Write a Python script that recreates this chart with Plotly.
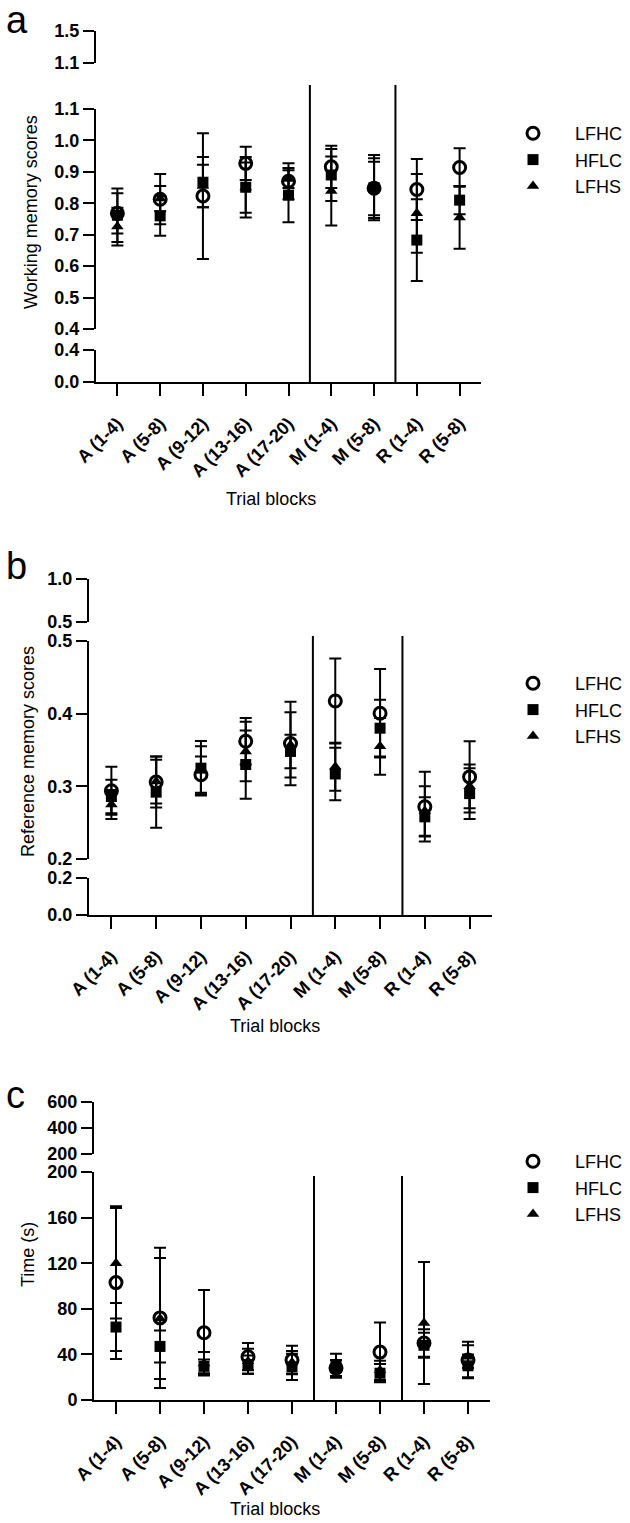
import plotly.graph_objects as go

# ---------------- data ----------------
categories = ["A (1-4)", "A (5-8)", "A (9-12)", "A (13-16)", "A (17-20)",
              "M (1-4)", "M (5-8)", "R (1-4)", "R (5-8)"]
series_names = ["LFHC", "HFLC", "LFHS"]

# Panel a: working memory scores
wm_lfhc = [0.768, 0.813, 0.823, 0.927, 0.870, 0.916, 0.848, 0.844, 0.914]
wm_lfhc_err = [0.064, 0.080, 0.200, 0.053, 0.057, 0.067, 0.095, 0.097, 0.061]
wm_hflc = [0.762, 0.760, 0.867, 0.851, 0.826, 0.890, 0.850, 0.683, 0.810]
wm_hflc_err = [0.085, 0.063, 0.080, 0.096, 0.086, 0.083, 0.104, 0.130, 0.045]
wm_lfhs = [0.726, 0.815, 0.855, 0.850, 0.877, 0.839, 0.847, 0.768, 0.755]
wm_lfhs_err = [0.060, 0.040, 0.068, 0.080, 0.028, 0.110, 0.085, 0.125, 0.100]

# Panel b: reference memory scores
rm_lfhc = [0.294, 0.306, 0.316, 0.362, 0.359, 0.4175, 0.4006, 0.272, 0.313]
rm_lfhc_err = [0.033, 0.035, 0.025, 0.032, 0.0575, 0.0585, 0.061, 0.048, 0.049]
rm_hflc = [0.286, 0.292, 0.325, 0.330, 0.348, 0.317, 0.380, 0.258, 0.290]
rm_hflc_err = [0.023, 0.049, 0.0375, 0.047, 0.023, 0.036, 0.039, 0.027, 0.035]
rm_lfhs = [0.275, 0.3065, 0.322, 0.348, 0.357, 0.327, 0.355, 0.266, 0.300]
rm_lfhs_err = [0.020, 0.030, 0.033, 0.041, 0.045, 0.033, 0.039, 0.034, 0.030]

# Panel c: time (s)
t_lfhc = [103, 72, 59, 38, 35, 28, 42, 50, 35]
t_lfhc_err = [67, 61.5, 37.5, 12, 12.5, 7, 26, 12, 16]
t_hflc = [64, 47, 29.5, 31, 29, 30, 23.5, 48, 30]
t_hflc_err = [21, 14, 6, 8, 11.5, 10.5, 8, 11, 10]
t_lfhs = [120, 71.5, 32, 34, 33, 26, 26, 67.5, 38]
t_lfhs_err = [48.5, 53, 10, 11, 10, 5, 8.5, 53.5, 10]

# axis segment tick labels (broken axes)
a_ticks = [[0.0, 0.4], [0.4, 0.5, 0.6, 0.7, 0.8, 0.9, 1.0, 1.1], [1.1, 1.5]]
b_ticks = [[0.0, 0.2], [0.2, 0.3, 0.4, 0.5], [0.5, 1.0]]
c_ticks = [[0, 40, 80, 120, 160, 200], [200, 400, 600]]

# ---------------- layout helpers ----------------
W, H = 630, 1523
FONT = "Liberation Sans, Arial, sans-serif"


def fx(p):
    return p / W


def fy(p):
    return 1 - p / H


panels = [
    dict(letter="a", ytitle="Working memory scores", fmt=".1f",
         data=[(wm_lfhc, wm_lfhc_err), (wm_hflc, wm_hflc_err), (wm_lfhs, wm_lfhs_err)],
         ticks=a_ticks, seg_px=[(382, 350), (329, 109), (63, 31)], main=1,
         x_px=(96, 481), sep_top=85, letter_xy=(4, 20), ytitle_xy=(31, 212),
         xtitle_xy=(271, 499), legend_xy=(491, 115)),
    dict(letter="b", ytitle="Reference memory scores", fmt=".1f",
         data=[(rm_lfhc, rm_lfhc_err), (rm_hflc, rm_hflc_err), (rm_lfhs, rm_lfhs_err)],
         ticks=b_ticks, seg_px=[(915, 878), (859, 641), (622, 579)], main=1,
         x_px=(89, 492), sep_top=636, letter_xy=(4, 566), ytitle_xy=(28, 752),
         xtitle_xy=(275, 1026), legend_xy=(491, 665)),
    dict(letter="c", ytitle="Time (s)", fmt="d",
         data=[(t_lfhc, t_lfhc_err), (t_hflc, t_hflc_err), (t_lfhs, t_lfhs_err)],
         ticks=c_ticks, seg_px=[(1400, 1172), (1154, 1102)], main=0,
         x_px=(94, 490), sep_top=1176, letter_xy=(4, 1095), ytitle_xy=(28, 1255),
         xtitle_xy=(275, 1509), legend_xy=(491, 1143)),
]

symbols = [
    dict(symbol="circle-open", size=12, line=dict(width=3, color="black"), color="black"),
    dict(symbol="square", size=11, color="black", line=dict(width=0)),
    dict(symbol="triangle-up", size=11, color="black", line=dict(width=0)),
]

axis_common = dict(showline=True, linewidth=2, linecolor="black", ticks="outside",
                   ticklen=11, tickwidth=2, tickcolor="black", showgrid=False,
                   zeroline=False, fixedrange=True, automargin=False,
                   tickfont=dict(family=FONT, size=18, color="black", weight="bold"))

fig = go.Figure()
layout = dict(width=W, height=H, autosize=False,
              margin=dict(l=0, r=0, t=0, b=0, pad=0, autoexpand=False),
              paper_bgcolor="white", plot_bgcolor="rgba(0,0,0,0)", showlegend=True,
              font=dict(family=FONT, color="black"))
shapes, annotations = [], []

# group boundaries between A / M / R blocks
groups = [c.split(" ")[0] for c in categories]
boundaries = [i - 0.5 for i in range(1, len(groups)) if groups[i] != groups[i - 1]]

y_counter = 0
for pi, p in enumerate(panels):
    xname = "x" if pi == 0 else f"x{pi + 1}"
    xkey = "xaxis" if pi == 0 else f"xaxis{pi + 1}"
    legname = "legend" if pi == 0 else f"legend{pi + 1}"
    yids, yranges = [], []
    for si, ((bot, top), tv) in enumerate(zip(p["seg_px"], p["ticks"])):
        y_counter += 1
        yid = "y" if y_counter == 1 else f"y{y_counter}"
        ykey = "yaxis" if y_counter == 1 else f"yaxis{y_counter}"
        yids.append(yid)
        yranges.append((tv[0], tv[-1]))
        if p["fmt"] == "d":
            tt = [f"{v:d}" for v in tv]
        else:
            tt = [f"{v:.1f}" for v in tv]
        layout[ykey] = dict(axis_common, domain=[fy(bot), fy(top)], range=[tv[0], tv[-1]],
                            tickmode="array", tickvals=tv, ticktext=tt, anchor=xname)
    layout[xkey] = dict(axis_common, domain=[fx(p["x_px"][0]), fx(p["x_px"][1])],
                        type="category", categoryorder="array", categoryarray=categories,
                        range=[-0.5, len(categories) - 0.5], anchor=yids[0],
                        tickangle=-45, ticklen=12, ticklabelstandoff=10,
                        tickfont=dict(family=FONT, size=18, color="black", weight="bold"))
    # main segment first (legend entries), then the in-range data on the other segments
    order = [p["main"]] + [k for k in range(len(yids)) if k != p["main"]]
    for k in order:
        lo, hi = yranges[k]
        for si, (vals, errs) in enumerate(p["data"]):
            yv = [v if lo <= v <= hi else None for v in vals]
            fig.add_trace(go.Scatter(
                x=categories, y=yv, mode="markers", name=series_names[si],
                xaxis=xname, yaxis=yids[k], legend=legname,
                showlegend=(k == p["main"]), cliponaxis=True,
                marker=symbols[si],
                error_y=dict(type="data", array=errs, visible=True, color="black",
                             thickness=2, width=6),
            ))
    # separators
    for b in boundaries:
        shapes.append(dict(type="line", xref=xname, yref="paper", x0=b, x1=b,
                           y0=fy(p["seg_px"][0][0]), y1=fy(p["sep_top"]),
                           line=dict(color="black", width=2)))
    # panel letter
    annotations.append(dict(text=p["letter"], x=fx(p["letter_xy"][0]), y=fy(p["letter_xy"][1]),
                            xref="paper", yref="paper", xanchor="left", yanchor="middle",
                            showarrow=False, font=dict(family=FONT, size=38, color="black")))
    annotations.append(dict(text=p["ytitle"], x=fx(p["ytitle_xy"][0]), y=fy(p["ytitle_xy"][1]),
                            xref="paper", yref="paper", xanchor="center", yanchor="middle",
                            textangle=-90, showarrow=False,
                            font=dict(family=FONT, size=18, color="black")))
    annotations.append(dict(text="Trial blocks", x=fx(p["xtitle_xy"][0]), y=fy(p["xtitle_xy"][1]),
                            xref="paper", yref="paper", xanchor="center", yanchor="middle",
                            showarrow=False, font=dict(family=FONT, size=18, color="black")))
    layout[legname] = dict(x=fx(p["legend_xy"][0]), y=fy(p["legend_xy"][1]),
                           xanchor="left", yanchor="top", bgcolor="rgba(0,0,0,0)",
                           font=dict(family=FONT, size=18, color="black"),
                           itemwidth=74, tracegroupgap=0)

layout["shapes"] = shapes
layout["annotations"] = annotations
fig.update_layout(**layout)

fig.write_html("out.html", config={"displayModeBar": False},
               post_script="document.body.style.margin='0';"
                           "document.documentElement.style.overflow='hidden';")
